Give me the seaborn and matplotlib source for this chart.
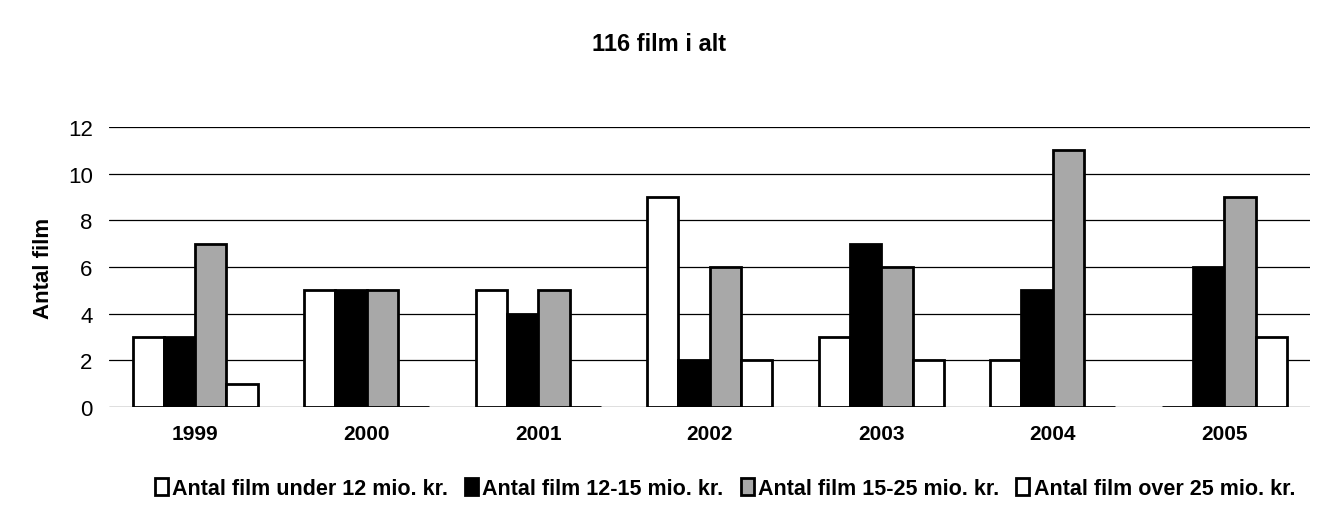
import pandas as pd
import seaborn as sns
import matplotlib.pyplot as plt

years = ['1999', '2000', '2001', '2002', '2003', '2004', '2005']
series = ['Antal film under 12 mio. kr.', 'Antal film 12-15 mio. kr.',
          'Antal film 15-25 mio. kr.', 'Antal film over 25 mio. kr.']
under_12 = [3, 5, 5, 9, 3, 2, 0]
mio_12_15 = [3, 5, 4, 2, 7, 5, 6]
mio_15_25 = [7, 5, 5, 6, 6, 11, 9]
over_25 = [1, 0, 0, 2, 2, 0, 3]

df = pd.DataFrame({'year': years, series[0]: under_12, series[1]: mio_12_15,
                   series[2]: mio_15_25, series[3]: over_25})
df = df.melt(id_vars='year', var_name='serie', value_name='antal')

sns.set_style('white')
plt.rcParams['font.family'] = ['Liberation Sans', 'DejaVu Sans']
plt.rcParams['text.color'] = 'black'
plt.rcParams['xtick.color'] = 'black'
plt.rcParams['ytick.color'] = 'black'
plt.rcParams['axes.labelcolor'] = 'black'

fig = plt.figure(figsize=(13.18, 5.10), dpi=100)
ax = fig.add_axes([0.083, 0.2, 0.911, 0.549])

colors = ['white', 'black', '#a8a8a8', 'white']
sns.barplot(data=df, x='year', y='antal', hue='serie', palette=colors,
            width=0.73, edgecolor='black', linewidth=2, ax=ax, zorder=3)

ax.set_ylim(0, 12)
ax.set_xlim(-0.5, 6.5)
ax.set_yticks(range(0, 13, 2))
ax.yaxis.grid(True, color='black', linewidth=0.9, zorder=0)
ax.set_axisbelow(True)
for s in ax.spines.values():
    s.set_visible(False)
ax.tick_params(axis='y', labelsize=16, length=0, pad=12)
ax.tick_params(axis='x', labelsize=15, length=0, pad=12)
for lbl in ax.get_xticklabels():
    lbl.set_fontweight('bold')
ax.set_xlabel('')
ax.set_ylabel('Antal film', fontsize=16, fontweight='bold', labelpad=10)

fig.suptitle('116 film i alt', fontsize=17, fontweight='bold', y=0.935)

handles, labels = ax.get_legend_handles_labels()
ax.legend_.remove()
fig.legend(handles, labels, loc='center', bbox_to_anchor=(0.55, 0.04), ncol=4,
           frameon=False, prop={'weight': 'bold', 'size': 15.5},
           handlelength=0.6, handleheight=0.8, handletextpad=0.2, columnspacing=0.8)

fig.savefig('out.png', dpi=100)
